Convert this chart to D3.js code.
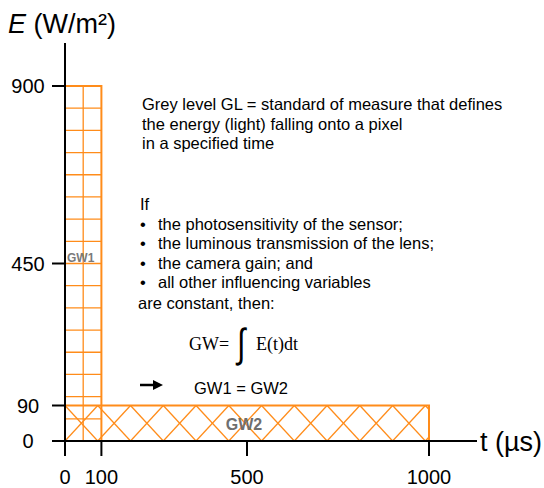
<!DOCTYPE html>
<html><head><meta charset="utf-8">
<script src="https://cdn.jsdelivr.net/npm/d3@7"></script>
<style>body{margin:0;background:#fff}svg{display:block}text{font-family:"Liberation Sans",Arial,sans-serif}</style>
</head><body><svg id="c" width="544" height="488"></svg>
<script>
// ---- data ----
const xTicks = [0, 100, 500, 1000];
const yTicks = [0, 90, 450, 900];
const blocks = [
  {name: "GW1", t0: 0, t1: 100, e: 900},
  {name: "GW2", t0: 0, t1: 1000, e: 90}
];
const gw1GridStep = [50, 56.25];   // µs, W/m²
const gw2HatchStep = [90, 90];     // µs, W/m²
const introLines = ["Grey level GL = standard of measure that defines",
  "the energy (light) falling onto a pixel", "in a specified time"];
const bulletItems = ["the photosensitivity of the sensor;",
  "the luminous transmission of the lens;", "the camera gain; and",
  "all other influencing variables"];

const svg = d3.select("#c");
const orange = "#ff8c1a";
const x = d3.scaleLinear().domain([0, 1000]).range([65, 429]);
const y = d3.scaleLinear().domain([0, 900]).range([441, 86]);

// clip paths
const defs = svg.append("defs");
blocks.forEach((b, i) => {
  defs.append("clipPath").attr("id", "clip" + i).append("rect")
    .attr("x", x(b.t0)).attr("y", y(b.e))
    .attr("width", x(b.t1) - x(b.t0)).attr("height", y(0) - y(b.e));
});

// GW1 grid
const b1 = blocks[0], b2 = blocks[1];
const g1 = svg.append("g").attr("clip-path", "url(#clip0)")
  .attr("stroke", orange).attr("stroke-width", 1.3);
d3.range(b1.e - gw1GridStep[1], 0, -gw1GridStep[1]).forEach(v => {
  g1.append("line").attr("x1", x(b1.t0)).attr("x2", x(b1.t1)).attr("y1", y(v)).attr("y2", y(v));
});
d3.range(b1.t0 + gw1GridStep[0], b1.t1, gw1GridStep[0]).forEach(v => {
  g1.append("line").attr("x1", x(v)).attr("x2", x(v)).attr("y1", y(b1.e)).attr("y2", y(0));
});

// GW2 hatch
const g2 = svg.append("g").attr("clip-path", "url(#clip1)")
  .attr("stroke", orange).attr("stroke-width", 1.3).attr("fill", "none");
const hw = x(gw2HatchStep[0]) - x(0), hh = y(0) - y(gw2HatchStep[1]);
for (let t = -2 * gw2HatchStep[0]; t <= b2.t1 + gw2HatchStep[0]; t += gw2HatchStep[0]) {
  g2.append("line").attr("x1", x(t)).attr("y1", y(b2.e)).attr("x2", x(t) + hw * (y(0) - y(b2.e)) / hh).attr("y2", y(0));
  g2.append("line").attr("x1", x(t)).attr("y1", y(0)).attr("x2", x(t) + hw * (y(0) - y(b2.e)) / hh).attr("y2", y(b2.e));
}

// borders
svg.selectAll("rect.blk").data(blocks).join("rect").attr("class", "blk")
  .attr("x", d => x(d.t0)).attr("y", d => y(d.e))
  .attr("width", d => x(d.t1) - x(d.t0)).attr("height", d => y(0) - y(d.e))
  .attr("fill", "none").attr("stroke", orange).attr("stroke-width", 2);

// axes
const ax = svg.append("g").attr("stroke", "#000").attr("stroke-width", 2);
ax.append("line").attr("x1", 65).attr("x2", 65).attr("y1", 43).attr("y2", 456);
ax.append("line").attr("x1", 52).attr("x2", 477).attr("y1", 441).attr("y2", 441);
yTicks.forEach(v => ax.append("line").attr("x1", 52).attr("x2", 65).attr("y1", y(v)).attr("y2", y(v)));
xTicks.forEach(v => ax.append("line").attr("x1", x(v)).attr("x2", x(v)).attr("y1", 441).attr("y2", 456));

svg.selectAll("text.yt").data(yTicks).join("text").attr("class", "yt")
  .attr("x", 28).attr("y", d => y(d)).attr("dy", "0.36em").attr("text-anchor", "middle")
  .attr("font-size", 20).text(d => d);
svg.selectAll("text.xt").data(xTicks).join("text").attr("class", "xt")
  .attr("x", d => x(d)).attr("y", 484).attr("text-anchor", "middle")
  .attr("font-size", 20).text(d => d);

// axis titles
const yt = svg.append("text").attr("x", 8).attr("y", 33).attr("font-size", 27);
yt.append("tspan").attr("font-style", "italic").text("E");
yt.append("tspan").text(" (W/m²)");
svg.append("text").attr("x", 480).attr("y", 451).attr("font-size", 27).text("t (µs)");

// block labels
svg.append("text").attr("x", 67).attr("y", 262).attr("font-size", 12).attr("font-weight", "bold")
  .attr("fill", "#7a7a7a").text(b1.name);
svg.append("text").attr("x", 244).attr("y", 430).attr("font-size", 16).attr("font-weight", "bold")
  .attr("fill", "#6f6f6f").attr("text-anchor", "middle").text(b2.name);

// text block
const fs = 16.5;
svg.selectAll("text.intro").data(introLines).join("text").attr("class", "intro")
  .attr("x", 142).attr("y", (d, i) => 110 + i * 19.5).attr("font-size", fs).text(d => d);
svg.append("text").attr("x", 140).attr("y", 210).attr("font-size", fs).text("If");
bulletItems.forEach((s, i) => {
  svg.append("text").attr("x", 140).attr("y", 230 + i * 19.3).attr("font-size", fs).text("•");
  svg.append("text").attr("x", 158).attr("y", 230 + i * 19.3).attr("font-size", fs).text(s);
});
svg.append("text").attr("x", 138).attr("y", 309).attr("font-size", fs).text("are constant, then:");

// formula
const serif = '"Liberation Serif","DejaVu Serif",serif';
svg.append("text").attr("x", 189).attr("y", 350).attr("font-size", 18).style("font-family", serif).text("GW=");
svg.append("text").attr("transform", "translate(237,357) scale(1,1.35)")
  .attr("font-size", 30).style("font-family", '"DejaVu Sans",sans-serif').style("font-weight", 200).text("∫");
svg.append("text").attr("x", 256).attr("y", 350).attr("font-size", 18).style("font-family", serif).text("E(t)dt");

// arrow
svg.append("line").attr("x1", 140).attr("x2", 156).attr("y1", 385).attr("y2", 385).attr("stroke", "#000").attr("stroke-width", 2.5);
svg.append("path").attr("d", "M153,380 L163,385 L153,390 Z").attr("fill", "#000");
svg.append("text").attr("x", 194).attr("y", 394).attr("font-size", fs).text("GW1 = GW2");
</script></body></html>
